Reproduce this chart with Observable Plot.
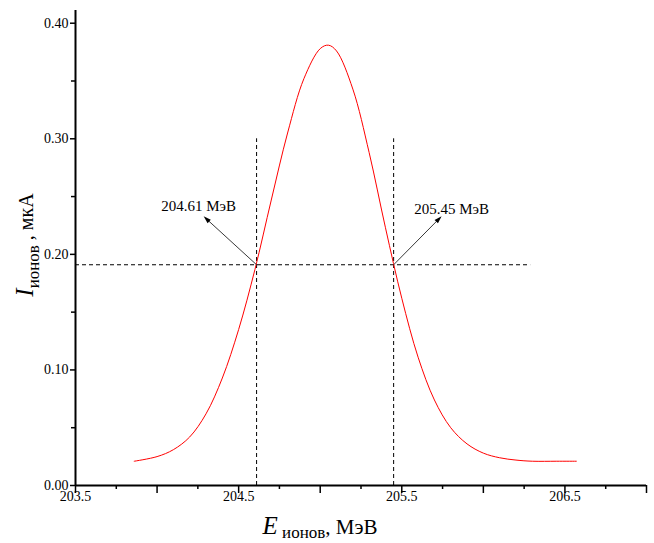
<!DOCTYPE html>
<html>
<head>
<meta charset="utf-8">
<script src="https://cdn.jsdelivr.net/npm/d3@7"></script>
<script src="https://cdn.jsdelivr.net/npm/@observablehq/plot@0.6"></script>
<style>
  html, body { margin: 0; padding: 0; background: #fff; }
  #chart svg { display: block; }
  #chart svg, #chart svg text { font-family: "Liberation Serif", "Times New Roman", serif !important; }
</style>
</head>
<body>
<div id="chart"></div>
<script>
// Curve
const energy = [203.86, 204.0, 204.1, 204.2, 204.3, 204.4, 204.5, 204.6, 204.7, 204.8, 204.9, 205.0, 205.05, 205.1, 205.2, 205.3, 205.4, 205.5, 205.6, 205.7, 205.8, 205.9, 206.0, 206.1, 206.2, 206.3, 206.45, 206.57];
const current = [0.021, 0.025, 0.031, 0.042, 0.062, 0.093, 0.135, 0.187, 0.247, 0.305, 0.352, 0.378, 0.381, 0.376, 0.343, 0.288, 0.223, 0.162, 0.111, 0.074, 0.050, 0.036, 0.028, 0.024, 0.022, 0.021, 0.021, 0.021];

// Half-level markers
const crossE = [204.61, 205.45];
const crossTop = 0.30;
const halfLevel = 0.191;
const halfLineEnd = 206.29;

// Annotations
const annText = ["204.61 МэВ", "205.45 МэВ"];
const annX = [204.025, 205.576];
const annY = [0.242, 0.239];
const arrowTipX = [204.30, 205.73];
const arrowTipY = [0.231, 0.231];

// Axes
const xDomain = [203.5, 207.0];
const yDomain = [0, 0.411];
const xLabelTicks = [203.5, 204.5, 205.5, 206.5];
const xMidTicks = [203.5, 204.0, 204.5, 205.0, 205.5, 206.0, 206.5, 207.0];
const xMinorTicks = [203.75, 204.25, 204.75, 205.25, 205.75, 206.25, 206.75];
const yLabelTicks = [0, 0.1, 0.2, 0.3, 0.4];
const yMinorTicks = [0.05, 0.15, 0.25, 0.35];

const curve = energy.map((e, i) => ({e, c: current[i]}));
const anns = annText.map((t, i) => ({t, x: annX[i], y: annY[i], x1: crossE[i], y1: halfLevel, x2: arrowTipX[i], y2: arrowTipY[i]}));

const font = "'Liberation Serif', 'Times New Roman', serif";

const plot = Plot.plot({
  width: 654,
  height: 543,
  marginLeft: 75,
  marginRight: 8,
  marginTop: 10,
  marginBottom: 58,
  style: {fontFamily: font, fontSize: "14px", color: "#000", background: "#fff"},
  x: {domain: xDomain},
  y: {domain: yDomain},
  marks: [
    Plot.axisX(xMinorTicks, {tickSize: 4, text: null, strokeWidth: 1.5}),
    Plot.axisX(xMidTicks, {tickSize: 8, text: null, strokeWidth: 1.5}),
    Plot.axisX(xLabelTicks, {tickSize: 0, tickPadding: 6, tickFormat: d3.format(".1f"), fontSize: 14, fontFamily: font}),
    Plot.axisY(yMinorTicks, {tickSize: 4, text: null, strokeWidth: 1.5}),
    Plot.axisY(yLabelTicks, {tickSize: 5, tickPadding: 2, tickFormat: d3.format(".2f"), fontSize: 14, fontFamily: font, strokeWidth: 1.5}),
    Plot.ruleY([0], {x1: xDomain[0], x2: xDomain[1], strokeWidth: 2}),
    Plot.ruleX([xDomain[0]], {y1: yDomain[0], y2: yDomain[1], strokeWidth: 2}),
    Plot.ruleX(crossE, {y1: 0, y2: crossTop, stroke: "#000", strokeWidth: 1, strokeDasharray: "4,3"}),
    Plot.ruleY([halfLevel], {x1: xDomain[0], x2: halfLineEnd, stroke: "#000", strokeWidth: 1, strokeDasharray: "4,3"}),
    Plot.line(curve, {x: "e", y: "c", stroke: "#ff0000", strokeWidth: 1, curve: "catmull-rom"}),
    Plot.link(anns, {x1: "x1", y1: "y1", x2: "x2", y2: "y2", stroke: "#222", strokeWidth: 0.9, markerEnd: "arrow"}),
    Plot.text(anns, {x: "x", y: "y", text: "t", textAnchor: "start", fontSize: 15, fontFamily: font, fill: "#000"})
  ]
});

// Make arrowheads filled triangles
d3.select(plot).selectAll("marker").each(function() {
  const m = d3.select(this);
  m.attr("fill", "#000").attr("stroke", "none").attr("markerWidth", 12).attr("markerHeight", 12).attr("refX", 0);
  m.select("path").attr("d", "M-4,-2.2L3,0L-4,2.2Z");
});

const svg = d3.select(plot);
svg.style("font-family", font);
// Y axis title
const yt = svg.append("text")
  .attr("transform", "translate(33,245) rotate(-90)")
  .attr("text-anchor", "middle")
  .attr("font-family", font)
  .attr("fill", "#000");
yt.append("tspan").attr("font-style", "italic").attr("font-size", 25).text("I");
yt.append("tspan").attr("font-size", 17).attr("dy", 6).text("ионов");
yt.append("tspan").attr("font-size", 20).attr("dy", -6).text(" , мкА");

// X axis title
const xt = svg.append("text")
  .attr("x", 320).attr("y", 534)
  .attr("text-anchor", "middle")
  .attr("font-family", font)
  .attr("fill", "#000");
xt.append("tspan").attr("font-style", "italic").attr("font-size", 25).text("E");
xt.append("tspan").attr("font-size", 17).attr("dy", 4).text(" ионов");
xt.append("tspan").attr("font-size", 21).attr("dy", -4).text(", МэВ");

document.getElementById("chart").appendChild(plot);
</script>
</body>
</html>
